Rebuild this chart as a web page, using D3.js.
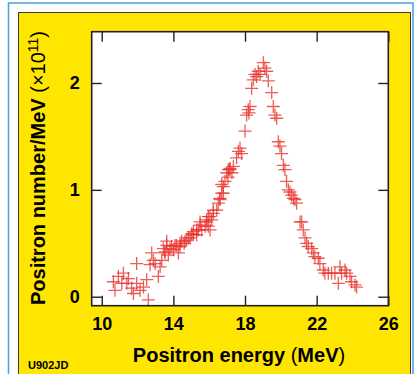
<!DOCTYPE html>
<html>
<head>
<meta charset="utf-8">
<script src="https://cdn.jsdelivr.net/npm/d3@7"></script>
<style>
  html, body { margin: 0; padding: 0; background: #fff; }
  svg { display: block; font-family: "Liberation Sans", Arial, Helvetica, sans-serif; }
</style>
</head>
<body>
<div id="chart"></div>
<script>
// positron spectrum (MeV, x1e11 per MeV)
const energy = [
  10.65, 10.74, 10.93, 11.12, 11.21, 11.40, 11.49, 11.67, 11.77, 11.95,
  11.95, 12.14, 12.33, 12.51, 12.60, 12.70, 12.79, 12.88, 12.98, 13.16,
  13.26, 13.35, 13.44, 13.53, 13.53, 13.63, 13.63, 13.72, 13.81, 13.90,
  14.00, 14.09, 14.18, 14.28, 14.37, 14.37, 14.46, 14.60, 14.65, 14.74,
  14.84, 14.93, 15.02, 15.11, 15.12, 15.30, 15.30, 15.39, 15.49, 15.49,
  15.58, 15.77, 15.86, 15.86, 15.95, 15.95, 16.04, 16.05, 16.14, 16.23,
  16.23, 16.42, 16.51, 16.60, 16.60, 16.70, 16.70, 16.79, 16.79, 16.88,
  16.98, 17.05, 17.07, 17.16, 17.16, 17.27, 17.35, 17.53, 17.63, 17.72,
  17.81, 18.00, 18.09, 18.18, 18.22, 18.28, 18.37, 18.46, 18.56, 18.65,
  18.74, 18.84, 19.02, 19.11, 19.21, 19.30, 19.49, 19.58, 19.67, 19.77,
  19.86, 19.95, 20.04, 20.14, 20.23, 20.32, 20.42, 20.51, 20.60, 20.70,
  20.79, 20.88, 21.07, 21.16, 21.25, 21.35, 21.44, 21.53, 21.72, 21.81,
  21.90, 22.09, 22.18, 22.37, 22.46, 22.65, 22.83, 23.02, 23.21, 23.30,
  23.39, 23.58, 23.67, 23.86, 23.95, 24.14, 24.23
];
const counts = [
  0.14, 0.06, 0.19, 0.125, 0.22, 0.125, 0.17, 0.08, 0.03, 0.31,
  0.125, 0.06, 0.09, 0.16, -0.03, 0.30, 0.41, 0.34, 0.31, 0.19,
  0.28, 0.34, 0.45, 0.41, 0.42, 0.48, 0.52, 0.39, 0.45, 0.47,
  0.44, 0.48, 0.48, 0.41, 0.47, 0.50, 0.52, 0.50, 0.52, 0.53,
  0.55, 0.55, 0.59, 0.58, 0.61, 0.58, 0.625, 0.625, 0.70, 0.67,
  0.625, 0.66, 0.72, 0.70, 0.75, 0.66, 0.75, 0.625, 0.72, 0.78,
  0.81, 0.81, 0.875, 0.91, 0.92, 0.97, 1.05, 1.03, 0.97, 1.08,
  1.16, 1.12, 1.19, 1.20, 1.19, 1.16, 1.22, 1.30, 1.36, 1.39,
  1.34, 1.55, 1.70, 1.75, 1.72, 1.78, 1.95, 2.03, 2.08, 2.06,
  2.11, 2.08, 2.19, 2.14, 2.11, 2.02, 1.91, 1.78, 1.70, 1.67,
  1.45, 1.41, 1.34, 1.23, 1.19, 1.08, 1.00, 0.98, 0.95, 0.92,
  0.91, 0.875, 0.70, 0.70, 0.625, 0.55, 0.50, 0.47, 0.45, 0.41,
  0.375, 0.36, 0.31, 0.25, 0.22, 0.22, 0.22, 0.22, 0.125, 0.28,
  0.22, 0.25, 0.22, 0.19, 0.14, 0.11, 0.09
];
const xTicks = [10, 14, 18, 22, 26];
const yTicks = [0, 1, 2];

const W = 416, H = 374;
const box = { left: 91.7, right: 388.3, top: 31.7, bottom: 305.7 };

const svg = d3.select('#chart').append('svg')
  .attr('width', W)
  .attr('height', H);

svg.append('rect').attr('width', W).attr('height', H).attr('fill', '#fff');

// thin blue page frame
svg.append('path')
  .attr('d', `M8.5,${H} V3 H413 V${H}`)
  .attr('fill', 'none')
  .attr('stroke', '#4a9fdc')
  .attr('stroke-width', 1.5);

// yellow panel
svg.append('rect')
  .attr('x', 18.5).attr('y', 12.5)
  .attr('width', 392).attr('height', 370)
  .attr('fill', '#ffe600')
  .attr('stroke', '#3a3a30')
  .attr('stroke-width', 1);

svg.append('rect')
  .attr('x', box.left).attr('y', box.top)
  .attr('width', box.right - box.left).attr('height', box.bottom - box.top)
  .attr('fill', '#fff');

const x = d3.scaleLinear().domain([9.44, 26]).range([box.left, box.right]);
const y = d3.scaleLinear().domain([-0.084, 2.48]).range([box.bottom, box.top]);

// crosses
const cross = svg.append('g')
  .attr('stroke', '#e8352e')
  .attr('stroke-width', 1.3)
  .attr('stroke-opacity', 0.8)
  .attr('fill', 'none');

const pts = energy.map((e, i) => [e, counts[i]]);
cross.selectAll('path')
  .data(pts)
  .enter().append('path')
  .attr('d', d => {
    const cx = x(d[0]), cy = y(d[1]);
    return `M${cx - 6.5},${cy} H${cx + 6.5} M${cx},${cy - 6.5} V${cy + 6.5}`;
  });

// axes, ticks pointing inwards on all four sides
function styleAxis(g, labels) {
  g.select('.domain').remove();
  g.selectAll('.tick line').attr('stroke', '#222').attr('stroke-width', 1.4);
  if (!labels) g.selectAll('.tick text').remove();
  else g.selectAll('.tick text')
    .attr('fill', '#000')
    .style('font-size', '18px')
    .style('font-weight', 'bold')
    .style('font-family', '"Liberation Sans", Arial, Helvetica, sans-serif');
}

svg.append('g')
  .attr('transform', `translate(0,${box.bottom})`)
  .call(d3.axisBottom(x).tickValues(xTicks).tickSize(-10).tickPadding(12).tickFormat(d3.format('d')))
  .call(g => styleAxis(g, true));

svg.append('g')
  .attr('transform', `translate(0,${box.top})`)
  .call(d3.axisTop(x).tickValues(xTicks).tickSize(-10))
  .call(g => styleAxis(g, false));

svg.append('g')
  .attr('transform', `translate(${box.left},0)`)
  .call(d3.axisLeft(y).tickValues(yTicks).tickSize(-10).tickPadding(12).tickFormat(d3.format('d')))
  .call(g => styleAxis(g, true));

svg.append('g')
  .attr('transform', `translate(${box.right},0)`)
  .call(d3.axisRight(y).tickValues(yTicks).tickSize(-10))
  .call(g => styleAxis(g, false));

// plot frame
svg.append('rect')
  .attr('x', box.left).attr('y', box.top)
  .attr('width', box.right - box.left).attr('height', box.bottom - box.top)
  .attr('fill', 'none')
  .attr('stroke', '#222')
  .attr('stroke-width', 1.6);

// axis titles
const xt = svg.append('text')
  .attr('x', 239).attr('y', 362)
  .attr('text-anchor', 'middle')
  .style('font-size', '20px')
  .style('font-weight', 'bold');
xt.append('tspan').text('Positron energy ');
xt.append('tspan').style('font-weight', 'normal').text('(');
xt.append('tspan').text('MeV');
xt.append('tspan').style('font-weight', 'normal').text(')');

const yt = svg.append('text')
  .attr('transform', 'translate(45,168) rotate(-90)')
  .attr('text-anchor', 'middle')
  .style('font-size', '20px')
  .style('font-weight', 'bold');
yt.append('tspan').text('Positron number/MeV ');
yt.append('tspan').style('font-weight', 'normal').text('(×10');
yt.append('tspan').style('font-weight', 'normal').style('font-size', '14px').attr('dy', -7).text('11');
yt.append('tspan').style('font-weight', 'normal').attr('dy', 7).text(')');

svg.append('text')
  .attr('x', 28).attr('y', 369)
  .style('font-size', '11px')
  .style('font-weight', 'bold')
  .text('U902JD');
</script>
</body>
</html>
